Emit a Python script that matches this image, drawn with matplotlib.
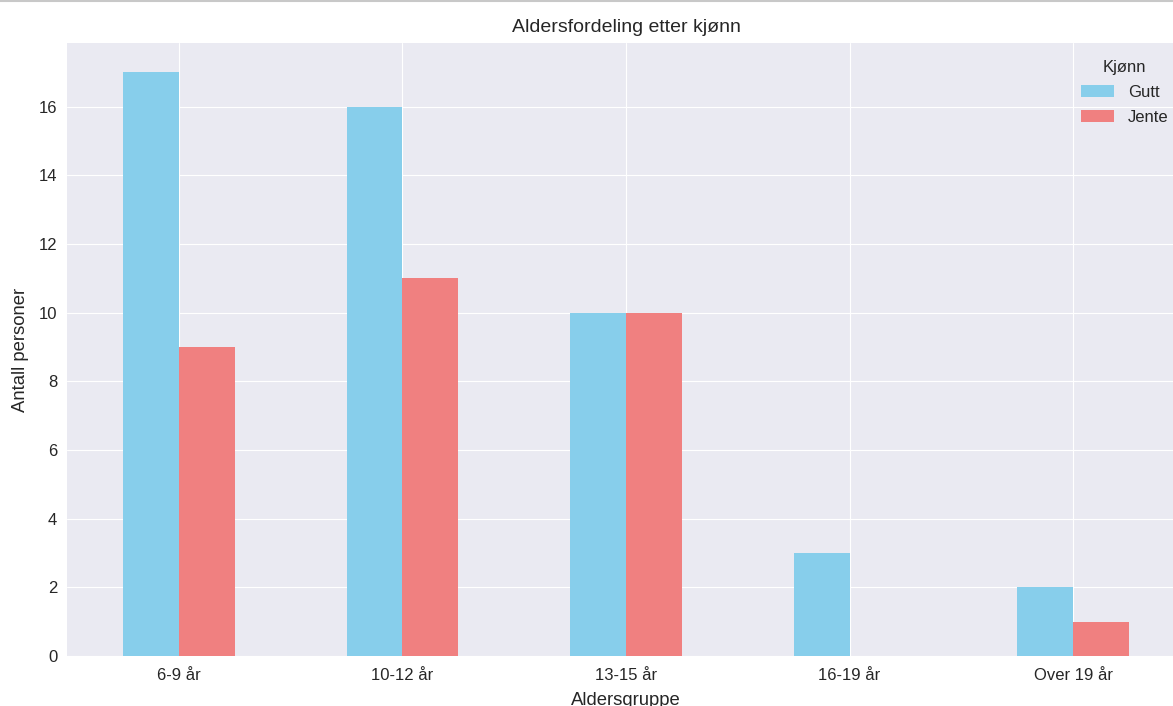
import matplotlib.pyplot as plt
import pandas as pd
from matplotlib.lines import Line2D

aldersgrupper = ['6-9 år', '10-12 år', '13-15 år', '16-19 år', 'Over 19 år']
gutt = [17, 16, 10, 3, 2]
jente = [9, 11, 10, 0, 1]

plt.style.use('seaborn-v0_8-darkgrid')
plt.rcParams['font.family'] = ['Liberation Sans', 'DejaVu Sans']

df = pd.DataFrame({'Gutt': gutt, 'Jente': jente}, index=aldersgrupper)

fig = plt.figure(figsize=(11.73, 7.06), dpi=100)
ax = fig.add_axes([67 / 1173, 50 / 706, 1118 / 1173, 613 / 706])
df.plot(kind='bar', ax=ax, color=['skyblue', 'lightcoral'], width=0.5)

ax.set_title('Aldersfordeling etter kjønn', fontsize=14, pad=8)
ax.set_xlabel('Aldersgruppe', fontsize=13.3, labelpad=6)
ax.set_ylabel('Antall personer', fontsize=13.3, labelpad=7)
plt.xticks(rotation=0, fontsize=12)
plt.yticks(fontsize=12)
ax.tick_params(axis='x', pad=9)
ax.tick_params(axis='y', pad=7)
ax.legend(title='Kjønn', loc='upper right', fontsize=12, title_fontsize=12,
          labelspacing=0.6, borderaxespad=0.6)

# thin border line at the top of the screenshot
fig.add_artist(Line2D([0, 1], [0.999, 0.999], color='#c8c8c8', lw=1.5, transform=fig.transFigure))

fig.savefig('out.png', dpi=100)
